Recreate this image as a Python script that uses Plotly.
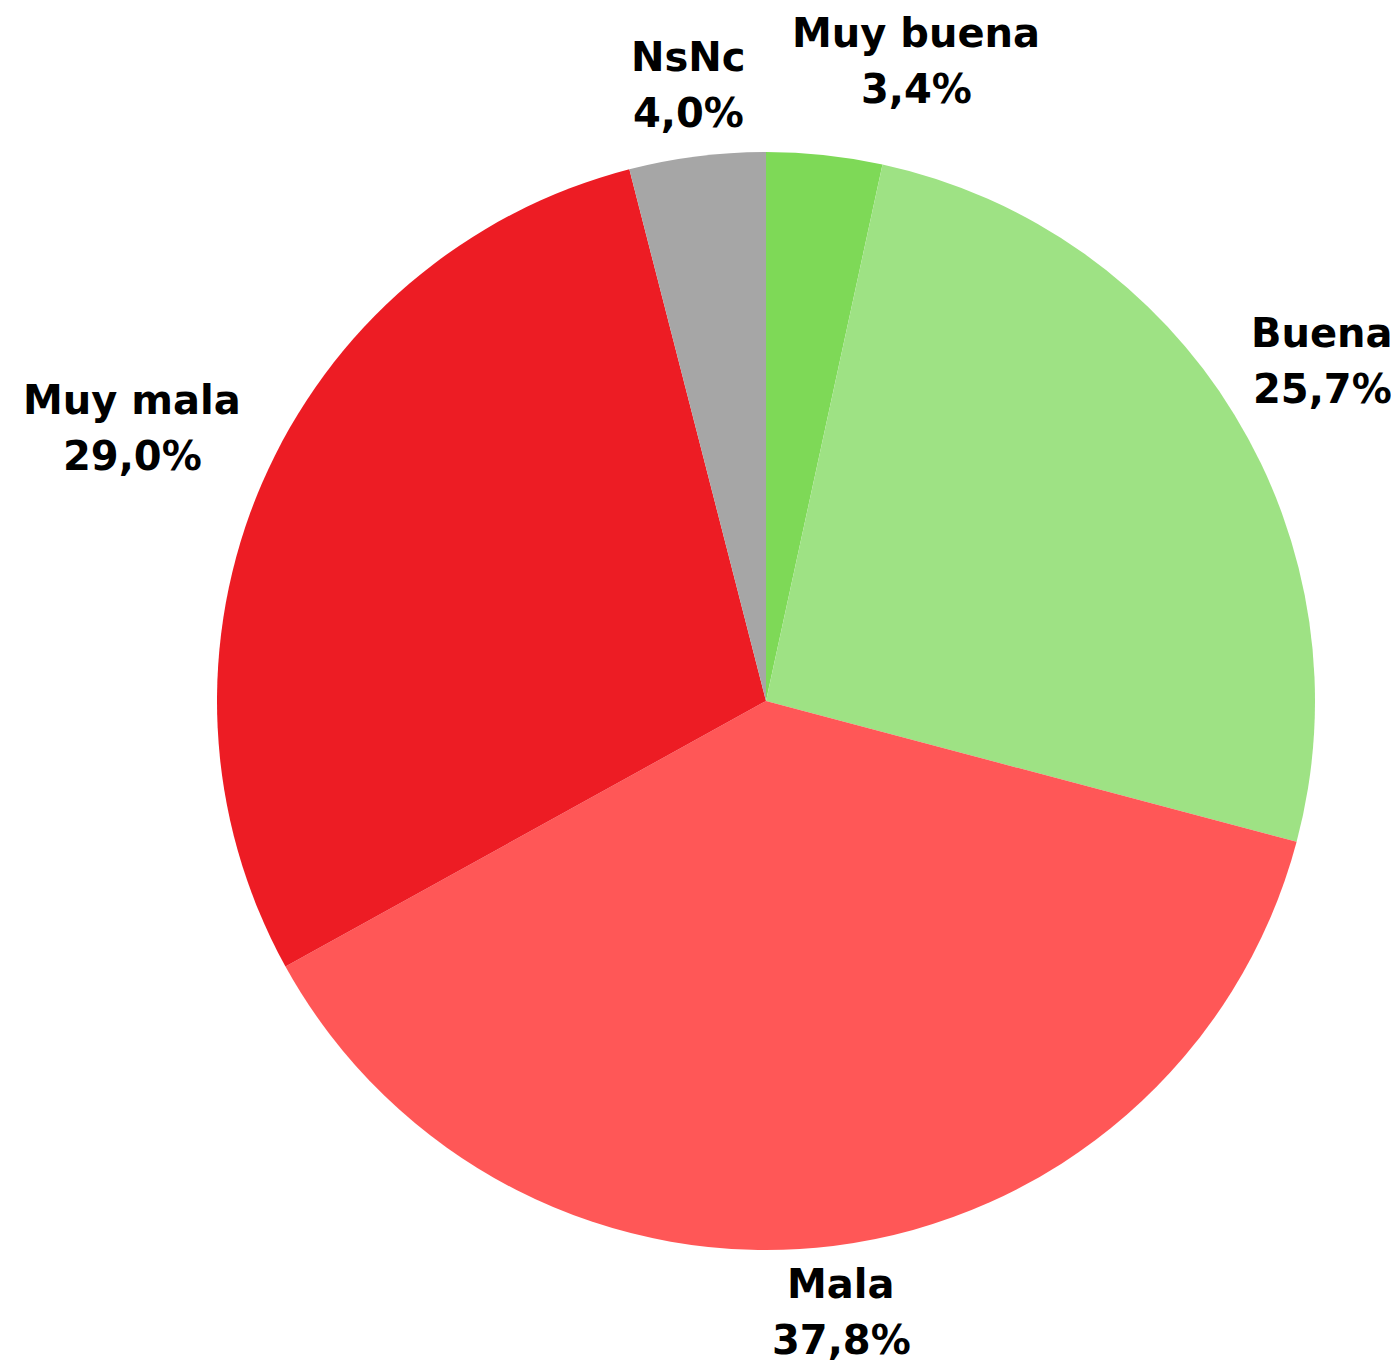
import math
import plotly.graph_objects as go

labels = ["Muy buena", "Buena", "Mala", "Muy mala", "NsNc"]
values = [3.4, 25.7, 37.8, 29.0, 4.0]
colors = ["#7ED957", "#9EE284", "#FF5757", "#ED1C24", "#A6A6A6"]

# label placement (style): distance from centre as multiple of radius, angular nudge in degrees
label_dist = [1.197, 1.188, 1.122, 1.257, 1.131]
label_nudge = [7.1, 0.0, 0.0, 0.0, 0.0]

W, H = 1399, 1362
OFF = 8  # page body margin
CX, CY, R = 766 - OFF, 701 - OFF, 549  # pixel centre / radius of the pie within the figure
LINE_GAP = 28  # half distance between the two label lines, px

fig = go.Figure(go.Pie(
    labels=labels,
    values=values,
    sort=False,
    direction="clockwise",
    rotation=0,
    marker=dict(colors=colors, line=dict(width=0)),
    textinfo="none",
    hoverinfo="label+percent",
    showlegend=False,
    domain=dict(x=[(CX - R) / W, (CX + R) / W],
                y=[(H - CY - R) / H, (H - CY + R) / H]),
))

font = dict(family="DejaVu Sans", size=40, color="#000000", weight="bold")
total = sum(values)
cum = 0.0
annotations = []
for lab, v, d, nud in zip(labels, values, label_dist, label_nudge):
    mid = (cum + v / 2) / total * 360.0 + nud
    cum += v
    th = math.radians(mid)
    px = CX + d * R * math.sin(th)
    py = CY - d * R * math.cos(th)
    pct = f"{v / total * 100:.1f}".replace(".", ",") + "%"
    for txt, shift in ((lab, LINE_GAP), (pct, -LINE_GAP)):
        annotations.append(dict(
            x=px / W, y=1 - py / H, xref="paper", yref="paper",
            text=txt, showarrow=False, yshift=shift,
            xanchor="center", yanchor="middle", align="center",
            font=font,
        ))

fig.update_layout(
    width=W, height=H,
    margin=dict(l=0, r=0, t=0, b=0),
    paper_bgcolor="white",
    plot_bgcolor="white",
    separators=",.",
    annotations=annotations,
)

fig.write_html("out.html")
